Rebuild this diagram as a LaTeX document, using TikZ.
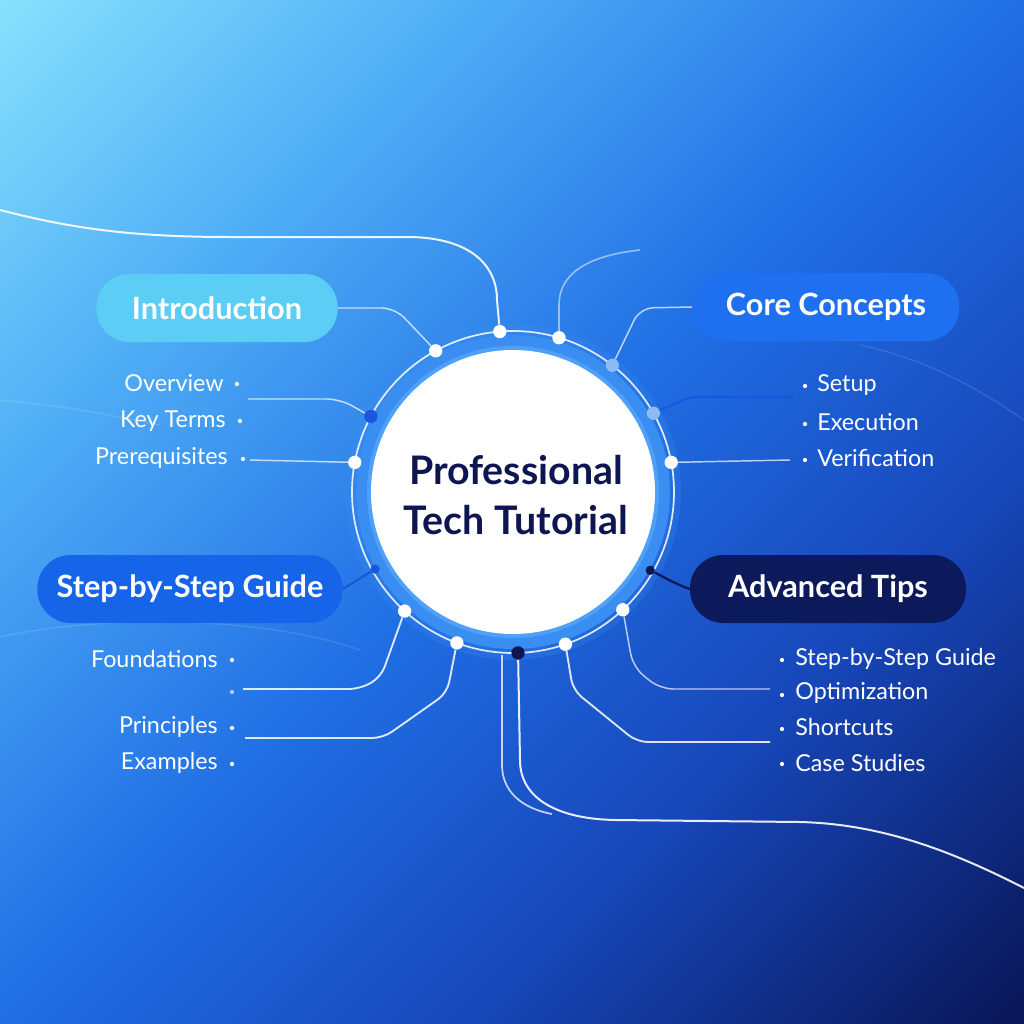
\documentclass[tikz,border=0pt]{standalone}
\usepackage{fontspec}
\setmainfont{Lato}
\usetikzlibrary{calc,shadings}
\definecolor{introC}{RGB}{92,205,245}
\definecolor{coreC}{RGB}{30,112,240}
\definecolor{stepC}{RGB}{22,100,232}
\definecolor{advC}{RGB}{12,26,92}
\definecolor{navy}{RGB}{14,22,82}
\definecolor{ringC}{RGB}{58,142,242}
\definecolor{ringIn}{RGB}{78,160,248}
\definecolor{dblue}{RGB}{24,88,222}
\definecolor{lblue}{RGB}{140,186,242}
\pgfdeclarehorizontalshading{diagbg}{100bp}{rgb(0bp)=(0.53,0.88,0.99); rgb(14.6bp)=(0.53,0.88,0.99); rgb(31bp)=(0.31,0.68,0.965); rgb(50bp)=(0.125,0.43,0.895); rgb(66bp)=(0.09,0.28,0.73); rgb(85.4bp)=(0.035,0.085,0.34); rgb(100bp)=(0.035,0.085,0.34)}
\begin{document}
\begin{tikzpicture}[x=0.75pt,y=-0.75pt,
  box/.style={rounded corners=25pt, minimum height=51pt, text=white,
    font=\bfseries\fontsize{23}{28}\selectfont, inner sep=0pt},
  subitem/.style={text=white, font=\fontsize{17.5}{21}\selectfont, inner sep=0pt},
  wdot/.style={circle, fill=white, minimum size=10pt, inner sep=0pt},
  bdot/.style={circle, fill=dblue, minimum size=10pt, inner sep=0pt},
  ldot/.style={circle, fill=lblue, minimum size=10pt, inner sep=0pt},
  ndot/.style={circle, fill=navy, minimum size=10pt, inner sep=0pt},
  sdot/.style={circle, fill=white, minimum size=3.2pt, inner sep=0pt},
  conn/.style={draw=white, line width=1.4pt, opacity=0.85, rounded corners=8pt},
  thinline/.style={draw=white, line width=1.1pt, opacity=0.7, rounded corners=10pt}]
\useasboundingbox (0,0) rectangle (1024,1024);
\shade[shading=diagbg, shading angle=-45] (0,0) rectangle (1024,1024);
% faint background waves
\draw[white, opacity=0.12, line width=1pt] (0,637) .. controls (100,615) and (260,615) .. (360,650);
\draw[white, opacity=0.12, line width=1pt] (0,400) .. controls (60,405) and (110,415) .. (160,425);
\draw[white, opacity=0.12, line width=1pt] (860,345) .. controls (930,360) and (980,390) .. (1024,420);

\coordinate (C) at (513,492);
% halo and ring
\fill[ringC, opacity=0.25] (C) circle (168);
\fill[ringC] (C) circle (157);
\fill[ringIn] (C) circle (146);
\fill[white] (C) circle (142);
\draw[white, line width=1.3pt, opacity=0.85] (C) circle (161);
\node[text=navy, font=\bfseries\fontsize{29.5}{37}\selectfont, align=center] (title) at (516,495) {Professional\\Tech Tutorial};

% dots on the ring
\path (C) ++(-118.7:161) node[wdot] (d1) {};
\path (C) ++(-94.7:161) node[wdot] (d2) {};
\path (C) ++(-73.4:161) node[wdot] (d3) {};
\path (C) ++(-51.9:161) node[ldot] (d4) {};
\path (C) ++(-29.3:161) node[ldot] (d5) {};
\path (C) ++(-10.6:161) node[wdot] (d6) {};
\path (C) ++(-152:161) node[bdot] (d7) {};
\path (C) ++(-169.4:161) node[wdot] (d8) {};
\path (C) ++(150.8:158) node[bdot, minimum size=7pt] (d9) {};
\path (C) ++(132.3:161) node[wdot] (d10) {};
\path (C) ++(110.4:161) node[wdot] (d11) {};
\path (C) ++(88.2:161) node[ndot] (d12) {};
\path (C) ++(71:161) node[wdot] (d13) {};
\path (C) ++(47:161) node[wdot] (d14) {};
\path (C) ++(29.7:158) node[ndot, minimum size=7pt] (d15) {};

% category boxes
\node[box, fill=introC, minimum width=181pt] (intro) at (217,308) {Introduction};
\node[box, fill=coreC, minimum width=200pt] (core) at (826,307) {Core Concepts};
\node[box, fill=stepC, minimum width=229pt] (step) at (190,589) {Step-by-Step Guide};
\node[box, fill=advC, minimum width=207pt] (adv) at (828,589) {Advanced Tips};

% left top items
\node[subitem, anchor=east] (ov) at (224,383) {Overview};
\node[subitem, anchor=east] (kt) at (226,421) {Key Terms};
\node[subitem, anchor=east] (pr) at (228,458) {Prerequisites};
\node[sdot] (ovd) at (237,384) {};
\node[sdot] (ktd) at (240,421) {};
\node[sdot] (prd) at (243,459) {};
% right top items
\node[sdot] (sud) at (805,386) {};
\node[sdot] (exd) at (805,424) {};
\node[sdot] (ved) at (805,460) {};
\node[subitem, anchor=west] (su) at (817,385) {Setup};
\node[subitem, anchor=west] (ex) at (817,422) {Execution};
\node[subitem, anchor=west] (ve) at (817,458) {Verification};
% left bottom items
\node[subitem, anchor=east] (fo) at (218,659) {Foundations};
\node[subitem, anchor=east] (pi) at (218,727) {Principles};
\node[subitem, anchor=east] (ea) at (218,763) {Examples};
\node[sdot] (fod) at (232,660) {};
\node[sdot, opacity=0.6] (xd) at (232,692) {};
\node[sdot] (pid) at (232,728) {};
\node[sdot] (ead) at (232,764) {};
% right bottom items
\node[sdot] (r1d) at (782,660) {};
\node[sdot] (r2d) at (782,695) {};
\node[sdot] (r3d) at (782,729) {};
\node[sdot] (r4d) at (782,764) {};
\node[subitem, anchor=west] (r1) at (795,659) {Step-by-Step Guide};
\node[subitem, anchor=west] (r2) at (795,693) {Optimization};
\node[subitem, anchor=west] (r3) at (795,727) {Shortcuts};
\node[subitem, anchor=west] (r4) at (795,763) {Case Studies};

% free ends
\coordinate (e1) at (248,399);
\coordinate (e2) at (250,460);
\coordinate (e3) at (793,397);
\coordinate (e4) at (790,460);
\coordinate (e5) at (243,689);
\coordinate (e6) at (245,738);
\coordinate (e7) at (770,689);
\coordinate (e8) at (770,742);
\coordinate (e9) at (0,210);
\coordinate (e10) at (640,250);
\coordinate (e11) at (1024,888);
\coordinate (e12) at (552,814);
\coordinate (e13) at (502,655);

% connectors
\draw[thinline] (intro.east) -- (395,308) -- (d1);
\draw[thinline] (core.west) -- (640,308) -- (d4);
\draw[dblue, line width=1.6pt] (step.east) -- (d9);
\draw[navy, line width=1.6pt] (adv.west) .. controls (675,584) and (660,575) .. (d15);
\draw[thinline] (e1) -- (340,399) -- (d7);
\draw[thinline] (e2) -- (d8);
\draw[dblue, line width=1.6pt, rounded corners=6pt] (d5) -- (690,397) -- (e3);
\draw[thinline] (d6) -- (e4);
\draw[conn] (d10) -- (381,677) -- (360,689) -- (e5);
\draw[conn] (d11) -- (447,693) -- (383,738) -- (e6);
\draw[thinline] (d14) -- (633,667) -- (660,689) -- (e7);
\draw[conn] (d13) -- (573,690) -- (637,742) -- (e8);
% long curves
\draw[white, line width=1.5pt, opacity=0.9] (e9) .. controls (70,228) and (130,237) .. (230,237) -- (410,237) .. controls (470,238) and (497,265) .. (497,300) -- (d2);
\draw[white, line width=1.2pt, opacity=0.5] (d3) -- (559,305) .. controls (559,275) and (585,256) .. (e10);
\draw[white, line width=1.5pt, opacity=0.9] (d12) -- (520,760) .. controls (520,800) and (560,819) .. (615,820) -- (800,822) .. controls (880,824) and (950,850) .. (e11);
\draw[white, line width=1.3pt, opacity=0.75] (e13) -- (502,765) .. controls (502,790) and (520,808) .. (e12);
\end{tikzpicture}
\end{document}
